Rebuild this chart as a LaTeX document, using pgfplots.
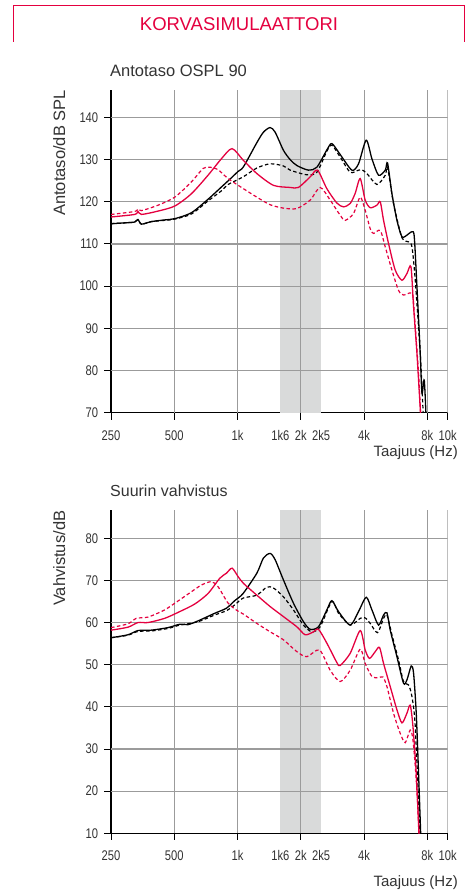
\documentclass[border=0pt]{standalone}
\usepackage{pgfplots}
\pgfplotsset{compat=1.18}
\usepackage{fontspec}
\setmainfont{Liberation Sans}
\newfontfamily\tickfont{Liberation Sans}[FakeStretch=0.8]
\definecolor{brand}{HTML}{E4003F}
\definecolor{txt}{HTML}{333333}
\definecolor{gridc}{HTML}{9B9B9B}
\definecolor{band}{HTML}{D9DADA}

\begin{document}
\begin{tikzpicture}
\path[use as bounding box] (0,0) rectangle (475bp,-894bp);

% header
\draw[brand, line width=1.3bp] (13.3bp,-41.7bp) -- (13.3bp,-5.7bp) -- (464.3bp,-5.7bp) -- (464.3bp,-41.7bp);
\node[anchor=base, inner sep=0, text=brand, font=\fontsize{18.5bp}{20bp}\selectfont] at (239bp,-30.7bp) {KORVASIMULAATTORI};

% ---------- top chart ----------
\node[anchor=base west, inner sep=0, text=txt, font=\fontsize{16.5bp}{19bp}\selectfont] at (110bp,-76bp) {Antotaso OSPL 90};
\node[rotate=90, anchor=base east, inner sep=0, text=txt, font=\fontsize{16.5bp}{19bp}\selectfont] at (65bp,-90bp) {Antotaso/dB SPL};
\node[anchor=base east, inner sep=0, text=txt, font=\fontsize{15bp}{18bp}\selectfont] at (458bp,-456.7bp) {Taajuus (Hz)};

\begin{axis}[at={(111bp,-412.7bp)}, anchor=south west,
    xmode=log, scale only axis, width=336.7bp, height=322.7bp,
    xmin=250, xmax=10000, ymin=70, ymax=146.5, ytick={70,80,...,140},
    axis x line*=bottom, axis y line*=left,
    axis line style={black, line width=1.1bp},
    xtick={250,500,1000,1600,2000,2500,4000,8000,10000},
    xticklabels={250,500,1k,1k6,2k,2k5,4k,8k,10k},
    xminorticks=false, yminorticks=false,
    xtick style={draw=none}, ytick style={draw=none},
    /pgf/number format/assume math mode=true,
    ticklabel style={font=\tickfont\fontsize{14bp}{14bp}\selectfont, text=txt},
    xticklabel style={text height=10bp, text depth=0pt, inner sep=0pt, yshift=-17.3bp},
    yticklabel style={xshift=-9.3bp},
  ]
\addplot[fill=band, draw=none] coordinates {(1600,70) (2500,70) (2500,146.5) (1600,146.5)} --cycle;
\pgfplotsinvokeforeach{500,1000,2000,4000,8000,10000}{\addplot[gridc, line width=1.1bp] coordinates {(#1,70) (#1,146.5)};}
\pgfplotsinvokeforeach{80,90,100,110,120,130,140}{\addplot[gridc, line width=1.1bp] coordinates {(250,#1) (10000,#1)};}
% black solid
\addplot[black, line width=1.3bp, smooth, tension=0.45] coordinates {(250,114.8) (290,115.0) (324,115.2) (336,115.8) (349,114.7) (389,115.3) (450,115.7) (503,116.0) (603,117.4) (724,120.6) (838,123.5) (922,125.4) (1006,127.2) (1067,128.3) (1235,134.0) (1328,136.5) (1429,137.6) (1510,136.5) (1654,132.2) (1780,130.0) (1915,128.6) (2175,127.5) (2385,128.2) (2661,132.3) (2811,133.8) (3079,131.2) (3500,127.5) (3764,129) (4094,134.6) (4359,130.2) (4687,126.3) (5045,127.5) (5173,129.2) (5428,121.9) (5734,115.6) (6057,111.7) (6398,112.1) (6760,112.9) (6933,111.7) (7140,99.8) (7403,84) (7542,74.6) (7735,77.7) (7906,68)};
% black dashed
\addplot[black, line width=1.2bp, smooth, tension=0.45, dash pattern=on 3.5bp off 2.5bp] coordinates {(250,114.8) (290,115.0) (324,115.2) (336,115.8) (349,114.7) (389,115.3) (450,115.6) (503,115.9) (603,117.1) (724,120.2) (838,122.6) (902,124.1) (1063,125.9) (1235,128.0) (1429,129.0) (1654,128.5) (1780,127.5) (2137,126.4) (2385,127.0) (2661,132.0) (2811,133.4) (3079,130.6) (3436,127.0) (3764,127.5) (3906,127.6) (4126,126.7) (4605,124.1) (5045,126.3) (5173,128.2) (5524,119.6) (6057,111.5) (6511,110.5) (6760,109.3) (7008,101.4) (7403,84) (7675,68)};
% red solid
\addplot[brand, line width=1.3bp, smooth, tension=0.45] coordinates {(250,116.4) (324,117.0) (336,117.7) (349,117.0) (419,117.8) (503,119.0) (603,121.9) (724,126.3) (838,130.2) (942,132.6) (1067,129.8) (1235,126.7) (1482,123.9) (1780,123.4) (1949,123.4) (2216,125.9) (2401,127.5) (2661,123.1) (2970,119.7) (3193,118.8) (3436,119.6) (3629,122.0) (3834,125.5) (4049,120.4) (4279,118.6) (4605,119.2) (4775,120.0) (4952,115.6) (5230,110.1) (5628,103.8) (6057,101.4) (6398,103) (6686,104.6) (6880,95.1) (7140,84) (7461,68)};
% red dashed
\addplot[brand, line width=1.2bp, smooth, tension=0.45, dash pattern=on 3.5bp off 2.5bp] coordinates {(250,117.0) (324,117.7) (336,118.3) (349,117.9) (419,119.2) (503,121.1) (603,124.7) (686,127.9) (738,128.2) (808,127.6) (902,125.5) (1067,123.1) (1235,121.1) (1429,119.3) (1654,118.5) (1915,118.4) (2216,120.4) (2473,123.4) (2759,120.4) (3079,116.8) (3252,115.6) (3562,117.2) (3834,121.1) (4049,118.0) (4279,113.6) (4436,112.5) (4775,113.2) (5045,109.3) (5428,103.8) (5835,99.0) (6163,97.9) (6633,98.4) (6835,97.5) (7008,90.4) (7267,79.3) (7461,68)};
\end{axis}
% tick marks (top)
\foreach \x in {111,174.27,237.53,300.8,364.06,427.33,447.7} \draw[black, line width=1bp] (\x bp,-412.7bp) -- (\x bp,-419.7bp);
\foreach \y in {412.7,370.52,328.33,286.15,243.97,201.78,159.6,117.42} \draw[black, line width=1bp] (104bp,-\y bp) -- (111bp,-\y bp);

% ---------- bottom chart ----------
\node[anchor=base west, inner sep=0, text=txt, font=\fontsize{16bp}{19bp}\selectfont] at (110bp,-496.6bp) {Suurin vahvistus};
\node[rotate=90, anchor=base east, inner sep=0, text=txt, font=\fontsize{16.5bp}{19bp}\selectfont] at (65bp,-510.6bp) {Vahvistus/dB};
\node[anchor=base east, inner sep=0, text=txt, font=\fontsize{15bp}{18bp}\selectfont] at (458bp,-886.7bp) {Taajuus (Hz)};

\begin{axis}[at={(111bp,-833.3bp)}, anchor=south west,
    xmode=log, scale only axis, width=336.7bp, height=323.3bp,
    xmin=250, xmax=10000, ymin=10, ymax=86.7, ytick={10,20,...,80},
    axis x line*=bottom, axis y line*=left,
    axis line style={black, line width=1.1bp},
    xtick={250,500,1000,1600,2000,2500,4000,8000,10000},
    xticklabels={250,500,1k,1k6,2k,2k5,4k,8k,10k},
    xminorticks=false, yminorticks=false,
    xtick style={draw=none}, ytick style={draw=none},
    /pgf/number format/assume math mode=true,
    ticklabel style={font=\tickfont\fontsize{14bp}{14bp}\selectfont, text=txt},
    xticklabel style={text height=10bp, text depth=0pt, inner sep=0pt, yshift=-17.4bp},
    yticklabel style={xshift=-9.3bp},
  ]
\addplot[fill=band, draw=none] coordinates {(1600,10) (2500,10) (2500,86.7) (1600,86.7)} --cycle;
\pgfplotsinvokeforeach{500,1000,2000,4000,8000,10000}{\addplot[gridc, line width=1.1bp] coordinates {(#1,10) (#1,86.7)};}
\pgfplotsinvokeforeach{20,30,40,50,60,70,80}{\addplot[gridc, line width=1.1bp] coordinates {(250,#1) (10000,#1)};}
% black solid
\addplot[black, line width=1.3bp, smooth, tension=0.45] coordinates {(250,56.4) (301,57.1) (336,58.1) (389,58.2) (467,58.8) (531,59.6) (581,59.5) (649,60.4) (779,62.2) (885,63.4) (970,65.2) (1063,66.9) (1235,71.7) (1328,75.3) (1429,76.4) (1510,74.9) (1654,70.1) (1845,64.6) (2059,60.2) (2216,58.4) (2427,59.0) (2661,63.0) (2811,65.2) (3023,62.6) (3436,59.4) (3764,62.6) (4094,66.0) (4359,63.0) (4687,59.4) (4952,61.8) (5140,62.3) (5328,58.2) (5734,51.9) (6163,45.6) (6398,46.4) (6708,49.7) (6880,48.0) (7085,38.5) (7267,24.2) (7461,8)};
% black dashed
\addplot[black, line width=1.2bp, smooth, tension=0.45, dash pattern=on 3.5bp off 2.5bp] coordinates {(250,56.4) (301,57.0) (336,57.9) (389,58.0) (467,58.6) (531,59.4) (649,60.2) (779,61.8) (885,62.8) (970,64.2) (1063,65.8) (1235,66.5) (1378,68.4) (1482,68.2) (1654,66.1) (1845,63.0) (2059,59.4) (2258,57.8) (2473,59.0) (2811,65.0) (3023,62.2) (3436,59.4) (3834,61.0) (4049,61.1) (4279,59.8) (4635,57.6) (4952,61.0) (5140,61.8) (5428,57.1) (5835,51.1) (6163,46.0) (6511,45.2) (6760,42.4) (7008,35.3) (7403,8)};
% red solid
\addplot[brand, line width=1.3bp, smooth, tension=0.45] coordinates {(250,58.2) (301,58.9) (336,60.0) (375,60.0) (450,61.0) (531,62.6) (626,64.4) (724,66.9) (823,70.5) (885,71.7) (942,72.9) (1006,70.9) (1067,69.3) (1235,66.5) (1429,63.8) (1654,61.4) (1915,59.0) (2098,57.1) (2298,57.8) (2427,58.4) (2661,55.1) (2970,50.5) (3079,49.8) (3436,52.7) (3834,58.1) (4049,53.5) (4245,51.5) (4520,53.1) (4738,54.1) (4952,50.3) (5328,44.8) (5734,39.3) (6057,36.2) (6398,38.5) (6633,40.4) (6835,35.3) (7085,24.2) (7323,8)};
% red dashed
\addplot[brand, line width=1.2bp, smooth, tension=0.45, dash pattern=on 3.5bp off 2.5bp] coordinates {(250,58.8) (301,59.7) (330,61.0) (375,61.3) (450,63.0) (531,65.4) (603,67.3) (673,68.9) (751,69.7) (808,68.5) (902,64.6) (1006,62.7) (1067,62.0) (1235,59.8) (1429,57.8) (1654,55.9) (1915,53.1) (2137,51.9) (2454,53.5) (2759,48.7) (3079,46.0) (3436,48.7) (3834,53.7) (4049,50.3) (4359,47.2) (4687,46.9) (4918,47.1) (5140,44.8) (5524,38.5) (5945,33.7) (6280,31.5) (6633,34.5) (6835,32.1) (7085,22.6) (7347,8)};
\end{axis}
% tick marks (bottom)
\foreach \x in {111,174.27,237.53,300.8,364.06,427.33,447.7} \draw[black, line width=1bp] (\x bp,-833.3bp) -- (\x bp,-840.3bp);
\foreach \y in {833.3,791.15,749.0,706.85,664.7,622.54,580.39,538.24} \draw[black, line width=1bp] (104bp,-\y bp) -- (111bp,-\y bp);
\end{tikzpicture}
\end{document}
